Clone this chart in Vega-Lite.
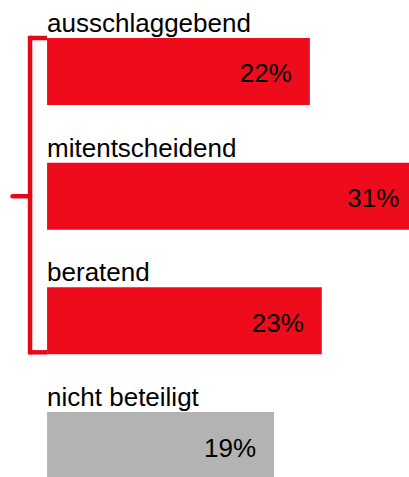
{
  "$schema": "https://vega.github.io/schema/vega-lite/v6.json",
  "width": 409,
  "height": 441,
  "autosize": {"type": "none"},
  "padding": {"top": 38, "left": 0, "right": 0, "bottom": 0},
  "config": {"view": {"stroke": null}, "text": {"font": "Liberation Sans", "color": "#000000"}},
  "data": {"values": [
    {"cat": "ausschlaggebend", "value": 22, "label": "22%", "group": "beteiligt"},
    {"cat": "mitentscheidend", "value": 31, "label": "31%", "group": "beteiligt"},
    {"cat": "beratend", "value": 23, "label": "23%", "group": "beteiligt"},
    {"cat": "nicht beteiligt", "value": 19, "label": "19%", "group": "nicht"}
  ]},
  "encoding": {
    "y": {"field": "cat", "type": "nominal", "sort": null, "axis": null, "scale": {"paddingInner": 0.4626, "paddingOuter": 0}}
  },
  "layer": [
    {
      "mark": {"type": "bar", "clip": true},
      "encoding": {
        "x": {"field": "value", "type": "quantitative", "scale": {"domain": [-3.94, 30.3], "nice": false, "zero": false}, "axis": null},
        "x2": {"datum": 0},
        "color": {"field": "group", "type": "nominal", "scale": {"domain": ["beteiligt", "nicht"], "range": ["#EE0B1C", "#B3B3B3"]}, "legend": null}
      }
    },
    {
      "mark": {"type": "text", "align": "left", "baseline": "alphabetic", "dy": -6, "fontSize": 26},
      "encoding": {
        "x": {"datum": 0},
        "y": {"field": "cat", "type": "nominal", "sort": null, "bandPosition": 0},
        "text": {"field": "cat"}
      }
    },
    {
      "mark": {"type": "text", "align": "right", "baseline": "alphabetic", "dx": -18, "dy": 11, "fontSize": 26},
      "encoding": {
        "x": {"field": "value", "type": "quantitative"},
        "text": {"field": "label"}
      }
    },
    {
      "data": {"values": [{}]},
      "mark": {"type": "rule", "color": "#E30A17", "strokeWidth": 4.5, "strokeCap": "square"},
      "encoding": {
        "x": {"datum": -1.424},
        "y": {"datum": "ausschlaggebend", "bandPosition": 0},
        "y2": {"datum": "beratend", "bandPosition": 0.97}
      }
    },
    {
      "data": {"values": [{}]},
      "mark": {"type": "rule", "color": "#E30A17", "strokeWidth": 4.5, "strokeCap": "butt"},
      "encoding": {
        "x": {"datum": -1.424},
        "x2": {"datum": 0},
        "y": {"datum": "ausschlaggebend", "bandPosition": 0}
      }
    },
    {
      "data": {"values": [{}]},
      "mark": {"type": "rule", "color": "#E30A17", "strokeWidth": 4.5, "strokeCap": "butt"},
      "encoding": {
        "x": {"datum": -1.424},
        "x2": {"datum": 0},
        "y": {"datum": "beratend", "bandPosition": 0.97}
      }
    },
    {
      "data": {"values": [{}]},
      "mark": {"type": "rule", "color": "#E30A17", "strokeWidth": 4.5, "strokeCap": "round"},
      "encoding": {
        "x": {"datum": -2.89},
        "x2": {"datum": -1.424},
        "y": {"datum": "mitentscheidend", "bandPosition": 0.5}
      }
    }
  ]
}
